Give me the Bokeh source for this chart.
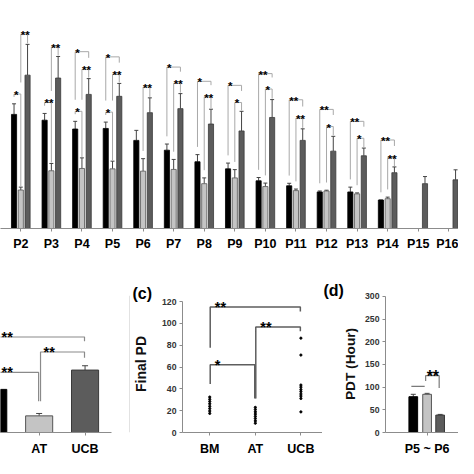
from bokeh.plotting import figure
from bokeh.layouts import column, row
from bokeh.models import ColumnDataSource, Whisker, TeeHead, FixedTicker, Range1d, Span, Title
from bokeh.core.properties import value
from bokeh.embed import file_html
from bokeh.resources import INLINE

FONT = "Liberation Sans"

# ---------------- panel (a): per-passage values ----------------
passage_num = [2, 3, 4, 5, 6, 7, 8, 9, 10, 11, 12, 13, 14, 15, 16]
passage_labels = ["P2", "P3", "P4", "P5", "P6", "P7", "P8", "P9", "P10", "P11", "P12", "P13", "P14", "P15", "P16"]
bm_mean = [5.93, 5.63, 5.17, 5.20, 4.58, 4.07, 3.47, 3.10, 2.48, 2.22, 1.90, 1.90, 1.48, None, None]
bm_sd = [0.55, 0.35, 0.40, 0.33, 0.52, 0.32, 0.37, 0.30, 0.17, 0.13, 0.05, 0.25, 0.00, None, None]
at_mean = [2.00, 3.00, 3.12, 3.10, 2.98, 3.07, 2.33, 2.63, 2.18, 1.97, 1.95, 1.80, 1.55, None, None]
at_sd = [0.15, 0.38, 0.55, 0.40, 0.65, 0.52, 0.30, 0.43, 0.18, 0.08, 0.04, 0.05, 0.08, None, None]
ucb_mean = [7.97, 7.82, 6.97, 6.87, 6.02, 6.23, 5.43, 5.07, 5.77, 4.58, 4.02, 3.78, 2.90, 2.33, 2.53]
ucb_sd = [1.60, 1.12, 0.82, 0.67, 0.77, 0.78, 0.77, 1.02, 0.93, 0.60, 0.77, 0.40, 0.30, 0.37, 0.52]

sig_passage = [2, 2, 3, 3, 4, 4, 4, 5, 5, 5, 6, 7, 7, 8, 8, 9, 9, 10, 10, 11, 11, 12, 12, 13, 13, 14, 14]
sig_from = ["BM", "AT", "BM", "AT", "BM", "AT", "BM", "BM", "AT", "BM", "AT", "BM", "AT", "BM", "AT",
            "BM", "AT", "BM", "AT", "BM", "AT", "BM", "AT", "BM", "AT", "BM", "AT"]
sig_to = ["AT", "UCB", "AT", "UCB", "UCB", "UCB", "AT", "UCB", "UCB", "AT", "UCB", "UCB", "UCB", "UCB", "UCB",
          "UCB", "UCB", "UCB", "UCB", "UCB", "UCB", "UCB", "UCB", "UCB", "UCB", "UCB", "UCB"]
sig_label = ["*", "**", "**", "**", "*", "**", "*", "*", "**", "*", "**", "*", "**", "*", "**",
             "*", "*", "**", "*", "**", "**", "**", "*", "**", "*", "**", "**"]
sig_level = [6.99, 10.10, 6.55, 9.44, 9.19, 8.27, 6.09, 8.92, 8.02, 6.05, 7.35, 8.39, 7.55, 7.65, 6.85,
             7.44, 6.55, 8.05, 7.25, 6.69, 5.74, 6.19, 5.30, 5.57, 4.69, 4.60, 3.69]

# ---------------- panel (b) ----------------
b_groups = ["BM", "AT", "UCB"]
b_mean = [29.8, 11.5, 43.15]
b_sd = [2.5, 1.65, 3.0]
b_sig_from = [1, 2, 1]
b_sig_to = [3, 3, 2]
b_sig_level = [66.0, 55.65, 41.5]
b_sig_end_from = [40.0, 21.65, 33.0]
b_sig_end_to = [63.15, 51.65, 21.65]
b_sig_label = ["**", "**", "**"]

# ---------------- panel (c): final PD per donor ----------------
c_groups = ["BM", "AT", "UCB"]
c_bm = [32.5, 30.4, 28.4, 26.3, 24.0, 21.9, 19.7, 17.5]
c_at = [23.0, 21.0, 18.9, 16.9, 14.8, 12.8, 10.6, 8.5]
c_ucb = [86.5, 71.0, 43.5, 41.6, 39.4, 37.5, 35.3, 33.4, 31.2, 18.9]
c_ticks = [0, 20, 40, 60, 80, 100, 120]
c_sig_from = [1, 2, 1]
c_sig_to = [3, 3, 2]
c_sig_level = [115.1, 96.8, 62.0]
c_sig_end_from = [77.6, 31.2, 44.5]
c_sig_end_to = [111.0, 92.9, 31.2]
c_sig_label = ["**", "**", "*"]

# ---------------- panel (d): PDT ----------------
d_category = "P5 ~ P6"
d_mean = [78.9, 84.2, 38.4]
d_sd = [5.3, 2.1, 1.5]
d_ticks = [0, 50, 100, 150, 200, 250, 300]
d_sig_level = 125.3
d_sig_end_from = 113.8
d_sig_end_to = 98.0
d_ns_level = 101.5

COL = {"BM": "#000000", "AT": "#c4c4c4", "UCB": "#5c5c5c"}
EDGE = {"BM": "#000000", "AT": "#555555", "UCB": "#3a3a3a"}


def style_axis(ax, size="12.5px"):
    ax.axis_line_color = "#8c8c8c"
    ax.major_tick_line_color = "#8c8c8c"
    ax.minor_tick_line_color = None
    ax.major_tick_out = 3
    ax.major_tick_in = 0
    ax.major_label_text_font = FONT
    ax.major_label_text_font_style = "bold"
    ax.major_label_text_font_size = size
    ax.major_label_text_color = "#000000"


def base_fig(**kw):
    p = figure(output_backend="svg", toolbar_location=None, **kw)
    p.grid.visible = False
    p.outline_line_color = None
    p.background_fill_color = "white"
    p.border_fill_color = "white"
    return p


# ======================= (a) =======================
pa = base_fig(width=458, height=253, x_range=Range1d(1.336, 16.317), y_range=Range1d(0, 11.85),
              y_axis_location=None, min_border_left=0, min_border_right=0, min_border_top=0,
              min_border_bottom=24)
style_axis(pa.xaxis[0])
pa.xaxis.ticker = FixedTicker(ticks=passage_num)
pa.xaxis.major_label_overrides = {n: l for n, l in zip(passage_num, passage_labels)}
pa.xaxis.major_label_standoff = 5

off = {"BM": -0.221, "AT": 0.0, "UCB": 0.221}
series = {"BM": (bm_mean, bm_sd), "AT": (at_mean, at_sd), "UCB": (ucb_mean, ucb_sd)}
BW = 0.168
tops = {}
for g, (m, s) in series.items():
    xs, ys, lo, hi = [], [], [], []
    for n, mv, sv in zip(passage_num, m, s):
        if mv is None:
            continue
        xs.append(n + off[g]); ys.append(mv); lo.append(mv); hi.append(mv + sv)
        tops[(g, n)] = mv + sv
    pa.vbar(x=xs, top=ys, width=BW, fill_color=COL[g], line_color=EDGE[g], line_width=0.8)
    src = ColumnDataSource(dict(base=xs, lower=lo, upper=hi))
    pa.add_layout(Whisker(source=src, base="base", lower="lower", upper="upper", dimension="height",
                          line_color="#444444", line_width=1,
                          upper_head=TeeHead(size=4, line_color="#444444", line_width=1), lower_head=None))

br_xs, br_ys, st_x, st_y, st_t = [], [], [], [], []
for k, (n, a, b, lab, lev) in enumerate(zip(sig_passage, sig_from, sig_to, sig_label, sig_level)):
    def leg_end(bar, gap):
        cands = [tops[(bar, n)] + gap]
        for j in range(len(sig_passage)):
            if j != k and sig_passage[j] == n and sig_level[j] < lev and bar in (sig_from[j], sig_to[j]):
                cands.append(sig_level[j] + 0.6)
        return min(max(cands), lev - 0.15)
    xa, xb = n + off[a], n + off[b]
    br_xs.append([xa, xa, xb, xb])
    br_ys.append([leg_end(a, 0.4), lev, lev, leg_end(b, 0.05)])
    st_x.append(xa); st_y.append(lev); st_t.append(lab)
pa.multi_line(xs=br_xs, ys=br_ys, line_color="#a8a8a8", line_width=1)
pa.text(x=st_x, y=st_y, text=st_t, text_font=value(FONT), text_font_style="bold",
        text_font_size="11.5px", text_align="left", text_baseline="alphabetic", y_offset=1,
        text_color="#000000")

# ======================= (b) =======================
pb = base_fig(width=130, height=205, x_range=Range1d(1.158, 3.990), y_range=Range1d(0, 94.7),
              y_axis_location=None, min_border_left=0, min_border_right=0, min_border_top=0,
              min_border_bottom=22)
style_axis(pb.xaxis[0])
pb.xaxis.ticker = FixedTicker(ticks=[1, 2, 3])
pb.xaxis.major_label_overrides = {i + 1: g for i, g in enumerate(b_groups)}
pb.xaxis.bounds = (1.158, 3.579)
pb.xaxis.major_label_standoff = 6
bx = [1, 2, 3]
pb.vbar(x=bx, top=b_mean, width=0.59, fill_color=[COL[g] for g in b_groups],
        line_color=[EDGE[g] for g in b_groups], line_width=1)
pb.add_layout(Whisker(source=ColumnDataSource(dict(base=bx, lower=b_mean,
                                                   upper=[m + s for m, s in zip(b_mean, b_sd)])),
                      base="base", lower="lower", upper="upper", dimension="height",
                      line_color="#444444", upper_head=TeeHead(size=6, line_color="#444444"), lower_head=None))
pb.multi_line(xs=[[f + 0.03, f + 0.03, t - 0.012, t - 0.012] for f, t in zip(b_sig_from, b_sig_to)],
              ys=[[e0, l, l, e1] for e0, l, e1 in zip(b_sig_end_from, b_sig_level, b_sig_end_to)],
              line_color="#8a8a8a", line_width=1.2)
# stars placed just inside the visible frame for the brackets starting off-panel (BM)
b_star_x = [max(f + 0.03, 1.16) for f in b_sig_from]
b_star_dx = [1 if f == 1 else 3 for f in b_sig_from]
pb.text(x=b_star_x, y=b_sig_level, text=b_sig_label, text_font=value(FONT),
        text_font_style="bold", text_font_size="14.5px", text_align="left", text_baseline="alphabetic",
        x_offset=b_star_dx, text_color="#000000")
pb.add_layout(Span(location=3.975, dimension="height", line_color="#d6d6d6", line_width=1))

# ======================= (c) =======================
pc = base_fig(width=192, height=205, x_range=Range1d(0.402, 3.474), y_range=Range1d(0, 125.6),
              min_border_left=51, min_border_right=0, min_border_top=35, min_border_bottom=22)
style_axis(pc.xaxis[0])
pc.xaxis.ticker = FixedTicker(ticks=[1, 2, 3])
pc.xaxis.major_label_overrides = {i + 1: g for i, g in enumerate(c_groups)}
pc.xaxis.major_label_standoff = 6
style_axis(pc.yaxis[0], size="8.7px")
pc.yaxis.major_label_text_color = "#333333"
pc.yaxis.ticker = FixedTicker(ticks=c_ticks)
pc.yaxis.bounds = (0, 120)
pc.yaxis.major_label_standoff = 3
pc.yaxis.axis_label = "Final PD"
pc.yaxis.axis_label_text_font = FONT
pc.yaxis.axis_label_text_font_style = "bold"
pc.yaxis.axis_label_text_font_size = "14px"
pc.yaxis.axis_label_text_color = "#111111"
pc.yaxis.axis_label_standoff = 10
cx = [1] * len(c_bm) + [2] * len(c_at) + [3] * len(c_ucb)
pc.scatter(x=cx, y=c_bm + c_at + c_ucb, size=2.2, color="#000000")
pc.multi_line(xs=[[f + 0.01, f + 0.01, t - 0.012, t - 0.012] for f, t in zip(c_sig_from, c_sig_to)],
              ys=[[e0, l, l, e1] for e0, l, e1 in zip(c_sig_end_from, c_sig_level, c_sig_end_to)],
              line_color="#5e5e5e", line_width=1.5)
pc.text(x=c_sig_from, y=c_sig_level, text=c_sig_label, text_font=value(FONT), text_font_style="bold",
        text_font_size="14.5px", text_align="left", text_baseline="alphabetic", x_offset=5,
        text_color="#000000")
pc.add_layout(Title(text="(c)", align="left", offset=-50, standoff=-12, text_font=FONT,
                    text_font_style="bold", text_font_size="16px", text_color="#000000"), "above")

# ======================= (d) =======================
pdd = base_fig(width=136, height=205, x_range=Range1d(0.139, 1.65), y_range=Range1d(0, 302),
               min_border_left=63, min_border_right=0, min_border_top=42, min_border_bottom=21)
style_axis(pdd.xaxis[0])
pdd.xaxis.ticker = FixedTicker(ticks=[1])
pdd.xaxis.major_label_overrides = {1: d_category}
pdd.xaxis.major_label_standoff = 6
style_axis(pdd.yaxis[0], size="8.7px")
pdd.yaxis.major_label_text_color = "#333333"
pdd.yaxis.ticker = FixedTicker(ticks=d_ticks)
pdd.yaxis.bounds = (0, 300)
pdd.yaxis.major_label_standoff = 3
pdd.yaxis.axis_label = "PDT (Hour)"
pdd.yaxis.axis_label_text_font = FONT
pdd.yaxis.axis_label_text_font_style = "bold"
pdd.yaxis.axis_label_text_font_size = "13.7px"
pdd.yaxis.axis_label_text_color = "#111111"
pdd.yaxis.axis_label_standoff = 4
d_off = [-0.286, 0.0, 0.27]
dx = [1 + o for o in d_off]
pdd.vbar(x=dx, top=d_mean, width=0.18, fill_color=[COL[g] for g in b_groups],
         line_color=[EDGE[g] for g in b_groups], line_width=1)
pdd.add_layout(Whisker(source=ColumnDataSource(dict(base=dx, lower=d_mean,
                                                    upper=[m + s for m, s in zip(d_mean, d_sd)])),
                       base="base", lower="lower", upper="upper", dimension="height",
                       line_color="#444444", upper_head=TeeHead(size=5, line_color="#444444"), lower_head=None))
pdd.multi_line(xs=[[dx[1] - 0.03, dx[1] - 0.03, dx[2] - 0.02, dx[2] - 0.02], [dx[0] - 0.04, dx[1] - 0.05]],
               ys=[[d_sig_end_from, d_sig_level, d_sig_level, d_sig_end_to], [d_ns_level, d_ns_level]],
               line_color="#7a7a7a", line_width=1.2)
pdd.text(x=[dx[1] - 0.03], y=[d_sig_level], text=["**"], text_font=value(FONT), text_font_style="bold",
         text_font_size="16px", text_align="left", text_baseline="alphabetic", x_offset=1,
         y_offset=1, text_color="#000000")
pdd.add_layout(Title(text="(d)", align="left", offset=-62, standoff=-6, text_font=FONT,
                     text_font_style="bold", text_font_size="16px", text_color="#000000"), "above")

layout = column(pa, row(pb, pc, pdd, spacing=0), spacing=0)
open("out.html", "w").write(file_html(layout, INLINE))
